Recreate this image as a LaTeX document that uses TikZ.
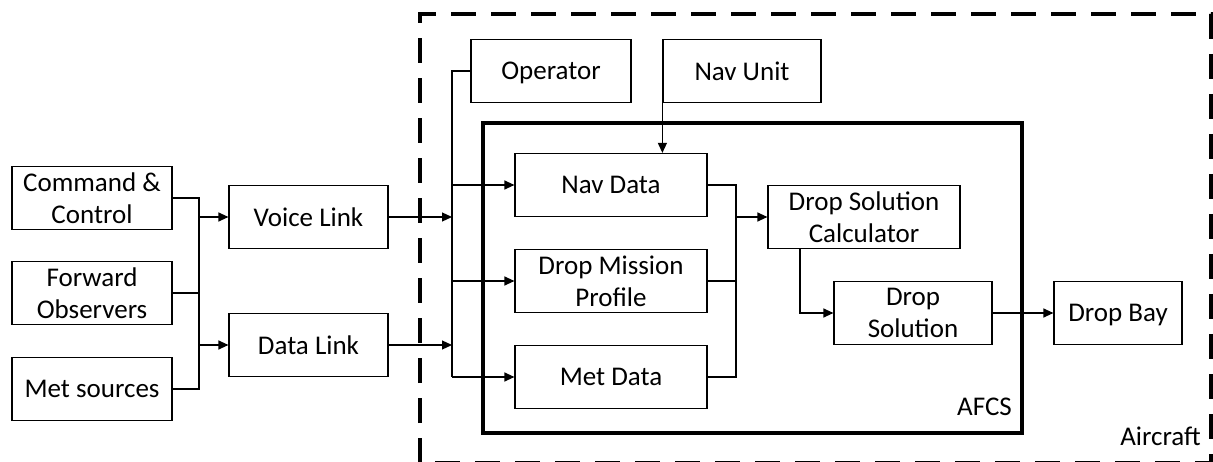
\documentclass[tikz,border=0pt]{standalone}
\usepackage{fontspec}
\setmainfont{Carlito}
\usetikzlibrary{positioning, calc, arrows.meta}

\begin{document}
\begin{tikzpicture}[x=1pt, y=-1pt,
    blk/.style={draw, line width=1.2pt, align=center, inner sep=0pt, minimum height=63pt, font=\fontsize{27}{31.7}\selectfont},
    flat/.style={text depth=0pt},
    lbl/.style={anchor=base east, inner sep=0pt, font=\fontsize{27}{31.7}\selectfont},
    ln/.style={line width=1.2pt},
    arr/.style={line width=1.2pt, -{Triangle[length=10pt,width=9pt]}}]
    \useasboundingbox (0,0) rectangle (1213,462);

    % Aircraft and AFCS borders
    \draw[line width=3.5pt, dash pattern=on 25pt off 15pt] (420,463) -- (420,14) -- (1211,14) -- (1211,463) -- cycle;
    \draw[line width=3.2pt] (483,123) rectangle (1022,433);
    \node[lbl] (afcs) at (1012,415) {AFCS};
    \node[lbl] (aircraft) at (1201,445) {Aircraft};

    % ground side
    \node[blk, minimum width=160pt] (cc) at (92,198) {Command \&\\Control};
    \node[blk, minimum width=160pt] (fo) at (92,293) {Forward\\Observers};
    \node[blk, minimum width=160pt] (ms) at (92,389) {Met sources};
    \node[blk, minimum width=159pt] (voice) at (308.5,217) {Voice Link};
    \node[blk, minimum width=159pt] (data) at (308.5,345) {Data Link};

    % on board
    \node[blk, flat, minimum width=160pt] (op) at (551,71) {Operator};
    \node[blk, minimum width=158pt] (navunit) at (742,71) {Nav Unit};
    \node[blk, minimum width=192pt] (navdata) at (611,185) {Nav Data};
    \node[blk, minimum width=192pt] (dmp) at (611,281) {Drop Mission\\Profile};
    \node[blk, minimum width=192pt] (metdata) at (611,377) {Met Data};
    \node[blk, minimum width=192pt] (dsc) at (864,217) {Drop Solution\\Calculator};
    \node[blk, minimum width=158pt] (dsol) at (913,313) {Drop\\Solution};
    \node[blk, flat, minimum width=128pt] (dbay) at (1118,313) {Drop Bay};

    % junction lines
    \coordinate (jl) at (199,0);
    \coordinate (bus) at (452,0);
    \coordinate (jr) at (736,0);
    \coordinate (jd) at (800,0);

    \draw[ln] (cc.east) -- (cc.east -| jl) -- (ms.east -| jl) -- (ms.east);
    \draw[ln] (fo.east) -- (fo.east -| jl);
    \draw[arr] (voice.west -| jl) -- (voice.west);
    \draw[arr] (data.west -| jl) -- (data.west);

    \draw[arr] (voice.east) -- (voice.east -| bus);
    \draw[arr] (data.east) -- (data.east -| bus);
    \draw[ln] (op.west) -- (op.west -| bus) -- (metdata.west -| bus);
    \draw[arr] (navdata.west -| bus) -- (navdata.west);
    \draw[arr] (dmp.west -| bus) -- (dmp.west);
    \draw[arr] (metdata.west -| bus) -- (metdata.west);
    \draw[arr] (navunit.south west) -- (navunit.south west |- navdata.north);

    \draw[ln] (navdata.east) -- (navdata.east -| jr) -- (metdata.east -| jr) -- (metdata.east);
    \draw[ln] (dmp.east) -- (dmp.east -| jr);
    \draw[arr] (dsc.west -| jr) -- (dsc.west);
    \draw[arr] (dsc.south -| jd) |- (dsol.west);
    \draw[arr] (dsol.east) -- (dbay.west);
\end{tikzpicture}
\end{document}
